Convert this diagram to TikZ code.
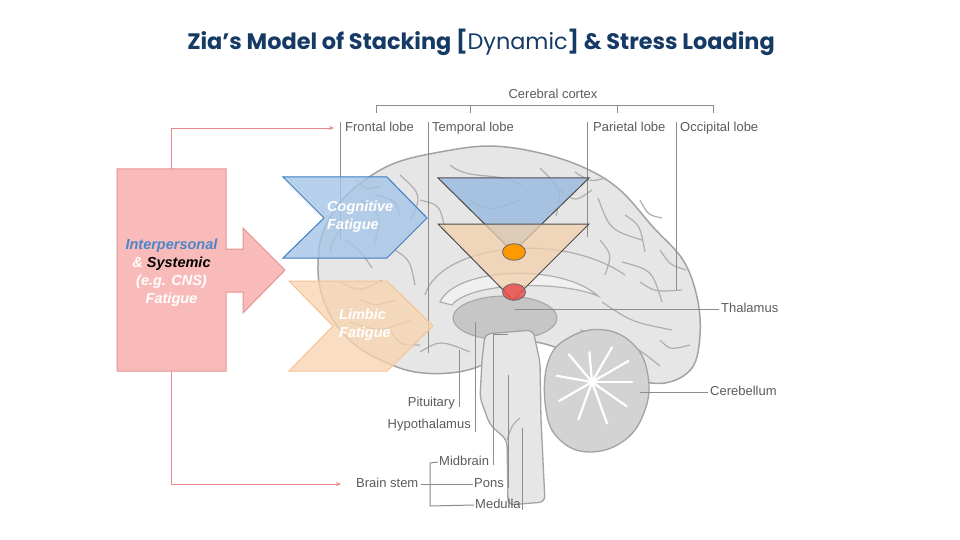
\documentclass[tikz,border=0pt]{standalone}
\usepackage{fontspec}
\setmainfont{Liberation Sans}
\newfontfamily\titlefont{Poppins}
\usetikzlibrary{arrows.meta,shapes.geometric}
\definecolor{titleblue}{HTML}{153A66}
\definecolor{pinkfill}{HTML}{F9BABA}
\definecolor{pinkdraw}{HTML}{E59393}
\definecolor{connred}{HTML}{E58B8B}
\definecolor{ipblue}{HTML}{4A86C8}
\definecolor{chevblue}{HTML}{A5C5E6}
\definecolor{chevbluedraw}{HTML}{3A7DC4}
\definecolor{chevorange}{HTML}{F9D4AF}
\definecolor{chevorangedraw}{HTML}{F5C394}
\definecolor{tribluefill}{HTML}{9CBCE0}
\definecolor{triorangefill}{HTML}{F3CFAA}
\definecolor{labelgray}{HTML}{5C5C5C}
\definecolor{leadgray}{HTML}{8C8C8C}
\definecolor{brainfill}{HTML}{E6E6E6}
\definecolor{braindraw}{HTML}{A3A3A3}
\definecolor{gyrus}{HTML}{AEAEAE}
\definecolor{deepgray}{HTML}{C6C6C6}
\definecolor{cbfill}{HTML}{D3D3D3}
\definecolor{dotorange}{HTML}{FF9900}
\definecolor{dotred}{HTML}{E8504F}
\tikzset{
  lbl/.style={font=\fontsize{13}{15}\selectfont, text=labelgray, inner sep=0pt, text height=9pt, text depth=2.5pt},
  lead/.style={draw=leadgray, line width=1pt},
  conn/.style={draw=connred, line width=0.9pt, -{Stealth[length=5pt,width=4pt]}},
  fatiguetext/.style={font=\fontsize{14.5}{18}\selectfont\bfseries\itshape, text=white, inner sep=0pt, align=left},
  gyr/.style={draw=gyrus, line width=1.2pt},
  dot/.style={ellipse, draw=black!60, line width=0.8pt, minimum width=23pt, minimum height=16.5pt, inner sep=0pt},
}
\begin{document}
\begin{tikzpicture}[x=1pt,y=-1pt]
\useasboundingbox[fill=white] (0,0) rectangle (960,540);

% title
\node[font=\titlefont\fontsize{22.4}{26}\selectfont\bfseries, text=titleblue, inner sep=0pt] (title) at (481,42)
  {Zia’s Model of Stacking [{\mdseries Dynamic}] \& Stress Loading};

% ---------------- brain ----------------
\draw[fill=brainfill, draw=braindraw, line width=1.5pt] plot[smooth cycle, tension=0.6] coordinates {
 (318,265) (322,235) (338,205) (362,182) (395,163) (440,152) (490,146) (540,153) (585,168)
 (620,190) (653,227) (683,260) (697,297) (700,335) (692,368) (665,383) (630,378) (590,360)
 (555,347) (530,342) (505,350) (480,366) (450,373) (415,372) (385,362) (355,345) (333,320) (321,292)};
% gyri
\draw[gyr] (360,200) .. controls (382,215) .. (375,242);
\draw[gyr] (400,175) .. controls (422,195) .. (410,222);
\draw[gyr] (450,165) .. controls (470,182) and (500,170) .. (522,186);
\draw[gyr] (540,168) .. controls (562,190) .. (556,216);
\draw[gyr] (598,198) .. controls (610,230) .. (642,240);
\draw[gyr] (622,262) .. controls (652,270) .. (662,302);
\draw[gyr] (602,302) .. controls (632,322) .. (672,330);
\draw[gyr] (340,282) .. controls (360,292) .. (382,280);
\draw[gyr] (350,322) .. controls (380,332) .. (410,320);
\draw[gyr] (420,352) .. controls (440,340) .. (470,352);
\draw[gyr] (345,240) .. controls (360,250) .. (372,268);
\draw[gyr] (640,200) .. controls (648,215) .. (662,218);
\draw[gyr] (660,340) .. controls (670,350) .. (690,345);
\draw[gyr] (330,252) .. controls (335,235) .. (347,224);
\draw[gyr] (375,195) .. controls (395,200) .. (400,215);
\draw[gyr] (420,200) .. controls (440,205) .. (445,230);
\draw[gyr] (470,200) .. controls (490,212) .. (520,200);
\draw[gyr] (560,190) .. controls (575,202) .. (592,190);
\draw[gyr] (575,172) .. controls (590,182) .. (606,178);
\draw[gyr] (625,215) .. controls (640,225) .. (645,252);
\draw[gyr] (660,250) .. controls (670,265) .. (686,270);
\draw[gyr] (640,282) .. controls (655,292) .. (682,290);
\draw[gyr] (620,340) .. controls (640,350) .. (660,366);
\draw[gyr] (580,330) .. controls (600,335) .. (615,352);
\draw[gyr] (360,300) .. controls (375,306) .. (396,300);
\draw[gyr] (390,330) .. controls (400,345) .. (420,345);
\draw[gyr] (395,250) .. controls (410,260) .. (415,285);
\draw[gyr] (356,180) .. controls (366,190) .. (381,186);
\draw[gyr] (600,240) .. controls (612,255) .. (605,275);
% cingulate / corpus callosum
\draw[gyr] (425,295) .. controls (440,245) and (560,230) .. (625,275);
\draw[gyr, fill=white!40!brainfill] (440,302) .. controls (455,268) and (560,262) .. (598,296)
  .. controls (560,280) and (470,282) .. (452,305) -- cycle;
% diencephalon
\draw[fill=deepgray, draw=braindraw, line width=1pt] (505,318) ellipse [x radius=52, y radius=22];
% cerebellum
\draw[fill=cbfill, draw=braindraw, line width=1.3pt] plot[smooth cycle, tension=0.7] coordinates {
 (548,362) (570,337) (605,330) (635,346) (648,376) (645,410) (625,440) (590,452) (560,440) (546,410)};
\foreach \a/\r in {0/40,35/42,70/44,110/40,150/38,190/36,230/36,265/30,300/40,330/42}
  \draw[white, line width=2.2pt, line cap=round] (592,382) -- ++(\a:\r);
% brainstem
\draw[fill=brainfill, draw=braindraw, line width=1.3pt, rounded corners=6pt]
 (485,334) -- (533,330) -- (540,362) -- (541,420) -- (545,502) -- (508,505) -- (507,440)
 -- (490,425) -- (480,398) -- (482,360) -- cycle;
\draw[gyr] (507,440) .. controls (512,425) .. (520,418);

% ---------------- labels ----------------
\node[lbl] (cortex) at (553,95) {Cerebral cortex};
\node[lbl, anchor=west] (frontal) at (345,128) {Frontal lobe};
\node[lbl, anchor=west] (temporal) at (432,128) {Temporal lobe};
\node[lbl, anchor=west] (parietal) at (593,128) {Parietal lobe};
\node[lbl, anchor=west] (occipital) at (680,128) {Occipital lobe};
\node[lbl, anchor=west] (thalamus) at (721,309) {Thalamus};
\node[lbl, anchor=west] (cerebellum) at (710,392) {Cerebellum};
\node[lbl, anchor=east] (pituitary) at (455,403) {Pituitary};
\node[lbl, anchor=east] (hypo) at (471,425) {Hypothalamus};
\node[lbl, anchor=west] (midbrain) at (439,462) {Midbrain};
\node[lbl, anchor=west] (pons) at (474,484) {Pons};
\node[lbl, anchor=west] (medulla) at (475,505) {Medulla};
\node[lbl, anchor=west] (brainstem) at (356,484) {Brain stem};

% leader lines
\draw[lead] (376,113) -- (376,106) -- (713,106) -- (713,113);
\draw[lead] (470,106) -- (470,113);
\draw[lead] (617,106) -- (617,113);
\draw[lead] (340,122) -- (340,240);
\draw[lead] (428,122) -- (428,353);
\draw[lead] (587,122) -- (587,237);
\draw[lead] (676,122) -- (676,290);
\draw[lead] (515,309) -- ([xshift=-2pt]thalamus.west);
\draw[lead] (640,392) -- ([xshift=-2pt]cerebellum.west);
\draw[lead] (459,350) -- (459,407);
\draw[lead] (475,322) -- (475,432);
\draw[lead] (508,334) -- (493,334) -- (493,465);
\draw[lead] (508,375) -- (508,488);
\draw[lead] (522,428) -- (522,510);
\draw[lead] ([xshift=2pt]brainstem.east) -- ([xshift=-1pt]pons.west);
\draw[lead] ([xshift=-1pt]midbrain.west) -- (430,463) -- (430,506) -- ([xshift=-1pt]medulla.west);

% ---------------- pink block arrow ----------------
\draw[fill=pinkfill, draw=pinkdraw, line width=1pt]
 (117,169) -- (226,169) -- (226,249) -- (243,249) -- (243,228) -- (285,270) -- (243,313)
 -- (243,292) -- (226,292) -- (226,371) -- (117,371) -- cycle;
\node[minimum width=109pt, minimum height=202pt, inner sep=0pt] (pink) at (171.5,270) {};
\node[font=\fontsize{14.5}{18}\selectfont\bfseries\itshape, inner sep=0pt, align=center] (pinktext) at (171.5,273)
 {\textcolor{ipblue}{Interpersonal}\\ \textcolor{white}{\&} Systemic\\ \textcolor{white}{(e.g. CNS)}\\ \textcolor{white}{Fatigue}};

% connectors
\draw[conn] (pink.north) |- ([xshift=-11pt]frontal.west);
\draw[conn] (pink.south) |- ([xshift=-15pt]brainstem.west);

% ---------------- chevrons ----------------
\draw[fill=chevblue, fill opacity=0.8, draw=chevbluedraw, line width=1pt]
 (283,177) -- (387,177) -- (427,218) -- (387,258) -- (283,258) -- (324,218) -- cycle;
\draw[fill=chevorange, fill opacity=0.75, draw=chevorangedraw, line width=1pt]
 (289,281) -- (387,281) -- (433,326) -- (387,371) -- (289,371) -- (333,326) -- cycle;
\node[fatiguetext, anchor=west] (cog) at (327,217) {Cognitive\\Fatigue};
\node[fatiguetext, anchor=west] (lim) at (339,325) {Limbic\\Fatigue};

% ---------------- stacked triangles ----------------
\draw[fill=tribluefill, fill opacity=0.85, draw=black!70, line width=1pt]
 (438,178) -- (589,178) -- (513,252) -- cycle;
\draw[fill=triorangefill, fill opacity=0.72, draw=black!70, line width=1pt]
 (438,224) -- (589,224) -- (513,300) -- cycle;
\node[dot, fill=dotred, fill opacity=0.85] (rdot) at (514,292) {};
\node[dot, fill=dotorange] (odot) at (514,252) {};
\end{tikzpicture}
\end{document}
